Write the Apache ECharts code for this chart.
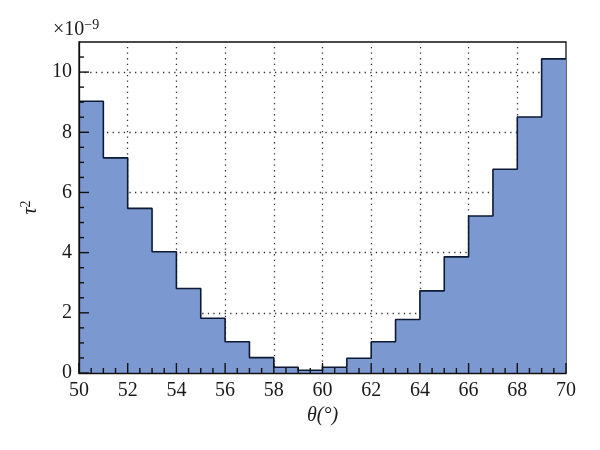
<!DOCTYPE html>
<html><head><meta charset="utf-8">
<script src="https://cdn.jsdelivr.net/npm/echarts@6/dist/echarts.min.js"></script>
<style>html,body{margin:0;padding:0;background:#fff}#c{width:600px;height:450px}</style>
</head><body><div id="c"></div>
<script>
// bin left edges (theta, degrees) and tau^2 values (x1e-9)
const binStarts = [50,51,52,53,54,55,56,57,58,59,60,61,62,63,64,65,66,67,68,69];
const binEnd = 70;
const tau2 = [9.03,7.15,5.47,4.03,2.81,1.82,1.04,0.51,0.19,0.09,0.19,0.49,1.04,1.78,2.73,3.86,5.22,6.77,8.51,10.44];
const xTicks = [50,52,54,56,58,60,62,64,66,68,70];
const yTicks = [0,2,4,6,8,10];

const stepData = binStarts.map((x,i)=>[x,tau2[i]]);
stepData.push([binEnd, tau2[tau2.length-1]]);

const font = '"Liberation Serif", "DejaVu Serif", serif';
const txt = '#1a1a1a';
const FS = 20;
const ink = '#111111';

// tick marks (major every 2, minor every 0.5), drawn on the axes' own scales
const tickData = [];
xTicks.forEach(v=>tickData.push([v,0,0]));
for(let k=101;k<140;k++){ if(k%4!==0) tickData.push([k/2,0,1]); }
yTicks.forEach(v=>tickData.push([50,v,2]));
for(let k=1;k<=21;k++){ if(k%4!==0) tickData.push([50,k/2,3]); }

const gridMarks = xTicks.slice(1,-1).map(v=>({xAxis:v}))
  .concat(yTicks.slice(1).map(v=>({yAxis:v})));

const chart = echarts.init(document.getElementById('c'));
chart.setOption({
  animation:false,
  grid:{left:79,right:34,top:42,bottom:77,show:true,borderColor:ink,borderWidth:1.3,backgroundColor:'transparent'},
  graphic:[{type:'text',left:53,top:18,z:100,style:{
    text:'{a|×10}{b|−9}',rich:{a:{fontFamily:font,fontSize:FS,fill:txt},b:{fontFamily:font,fontSize:14,fill:txt,padding:[0,0,10,0]}}}}],
  xAxis:{type:'value',min:50,max:70,interval:2,z:10,
     axisLine:{show:true,onZero:false,lineStyle:{color:ink,width:1.3}},
     axisTick:{show:false},
     axisLabel:{fontFamily:font,fontSize:FS,color:txt,margin:8},
     splitLine:{show:false},
     name:'θ(°)',nameLocation:'middle',nameGap:25,
     nameTextStyle:{fontFamily:font,fontSize:FS,color:txt,fontStyle:'italic'}},
  yAxis:{type:'value',min:0,max:11,interval:2,z:10,
     axisLine:{show:true,onZero:false,lineStyle:{color:ink,width:1.3}},
     axisTick:{show:false},
     axisLabel:{fontFamily:font,fontSize:FS,color:txt,margin:7,
       formatter:v=>yTicks.includes(v)?String(v):''},
     splitLine:{show:false},
     name:'{i|τ}{s|2}',nameLocation:'middle',nameGap:34,nameRotate:90,
     nameTextStyle:{fontFamily:font,color:txt,rich:{
       i:{fontFamily:font,fontSize:FS,fontStyle:'italic',color:txt},
       s:{fontFamily:font,fontSize:14,color:txt,padding:[0,0,10,0]}}}},
  series:[
    {type:'line',symbol:'none',z:1,silent:true,data:stepData,
     lineStyle:{opacity:0},
     markLine:{silent:true,z:1,symbol:['none','none'],label:{show:false},animation:false,
       lineStyle:{color:'#333',width:1.3,type:[1.3,4.3]},data:gridMarks}},
    {type:'line',step:'end',symbol:'none',z:2,
     data:stepData,
     lineStyle:{color:'#0d1a33',width:1.6},
     areaStyle:{color:'#7b98d1',opacity:1}},
    {type:'custom',z:10,silent:true,clip:false,data:tickData,
     encode:{x:0,y:1},
     renderItem:function(params,api){
       const p = api.coord([api.value(0),api.value(1)]);
       const kind = api.value(2);
       const len = (kind%2===0)?10:5;
       const end = kind<2 ? [p[0],p[1]-len] : [p[0]+len,p[1]];
       return {type:'line',shape:{x1:p[0],y1:p[1],x2:end[0],y2:end[1]},
               style:{stroke:ink,lineWidth:1.4}};
     }}
  ]
});
</script></body></html>
